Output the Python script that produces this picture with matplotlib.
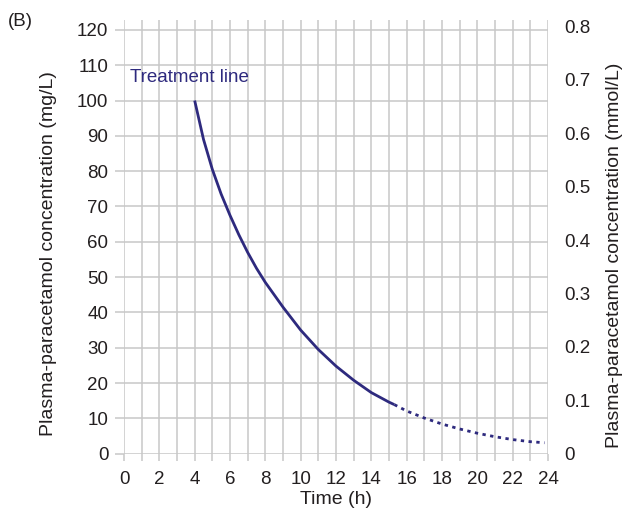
import matplotlib
matplotlib.use("Agg")
import matplotlib.pyplot as plt
from matplotlib.ticker import MultipleLocator, FixedLocator

plt.rcParams['font.family'] = ['Liberation Sans', 'DejaVu Sans']

# Treatment line, solid part (time in h, concentration in mg/L)
solid_hours = [4, 4.5, 5, 5.5, 6, 6.5, 7, 7.5, 8, 9, 10, 11, 12, 13, 14, 15, 15.3]
solid_mgl = [100, 89, 80.5, 73.5, 67.5, 62, 57, 52.5, 48.5, 41.5, 35, 29.5, 24.8, 20.8, 17.3, 14.6, 13.9]
# Treatment line, dotted extrapolation
dotted_hours = [15.3, 16, 17, 18, 19, 20, 21, 22, 23, 23.8]
dotted_mgl = [13.9, 12.1, 10.1, 8.4, 7.0, 5.8, 4.8, 4.0, 3.4, 3.1]

x_ticks = list(range(0, 25, 2))
y_ticks = list(range(0, 121, 10))
mmol_ticks = [0, 0.1, 0.2, 0.3, 0.4, 0.5, 0.6, 0.7, 0.8]
mmol_labels = ['0', '0.1', '0.2', '0.3', '0.4', '0.5', '0.6', '0.7', '0.8']
MW = 151.16  # mg per mmol

line_col = '#2e2a7e'
grid_col = '#c8c8c8'
text_col = '#231f20'
fs = 13.5
lfs = 14

fig = plt.figure(figsize=(6.41, 5.22), dpi=100)
W, H = 641, 522
ax = fig.add_axes([124 / W, 1 - 453.7 / H, (548 - 124) / W, (453.7 - 20) / H])
ymax = 122.8
ax.set_xlim(0, 24)
ax.set_ylim(0, ymax)

for s in ax.spines.values():
    s.set_visible(False)

ax.xaxis.set_major_locator(FixedLocator(x_ticks))
ax.xaxis.set_minor_locator(MultipleLocator(1))
ax.yaxis.set_major_locator(FixedLocator(y_ticks))
ax.grid(True, which='both', axis='x', color=grid_col, linewidth=1.1)
ax.grid(True, which='major', axis='y', color=grid_col, linewidth=1.1)
ax.set_axisbelow(True)

ax.tick_params(axis='x', which='both', length=5.2, width=1.1, color=grid_col,
               labelsize=fs, labelcolor=text_col, pad=7.2)
ax.tick_params(axis='y', which='major', length=6.2, width=1.1, color=grid_col,
               labelsize=fs, labelcolor=text_col, pad=5, right=True, labelright=False)

ax.plot(solid_hours, solid_mgl, color=line_col, linewidth=2.0, solid_capstyle='butt', zorder=3)
ax.plot(dotted_hours, dotted_mgl, color=line_col, linewidth=2.0,
        linestyle=(0, (1.2, 1.6)), zorder=3)

ax.text(0.34, 106.4, 'Treatment line', color=line_col, fontsize=fs, ha='left', va='center')

ax.set_xlabel('Time (h)', fontsize=lfs, color=text_col)
ax.xaxis.set_label_coords(0.5, -0.086)
ax.set_ylabel('Plasma-paracetamol concentration (mg/L)', fontsize=lfs, color=text_col)
ax.yaxis.set_label_coords(-0.158, 0.462)

ax2 = ax.twinx()
for s in ax2.spines.values():
    s.set_visible(False)
ax2.set_ylim(0, ymax / MW)
ax2.yaxis.set_major_locator(FixedLocator(mmol_ticks))
ax2.set_yticklabels(mmol_labels)
ax2.tick_params(axis='y', length=0, labelsize=fs, labelcolor=text_col, pad=12)
ax2.set_ylabel('Plasma-paracetamol concentration (mmol/L)', fontsize=lfs, color=text_col)
ax2.yaxis.set_label_coords(1.137, 0.458)

fig.text(8 / W, 1 - 22 / H, '(B)', fontsize=fs, color=text_col, ha='left', va='center')

fig.savefig('out.png', dpi=100)
